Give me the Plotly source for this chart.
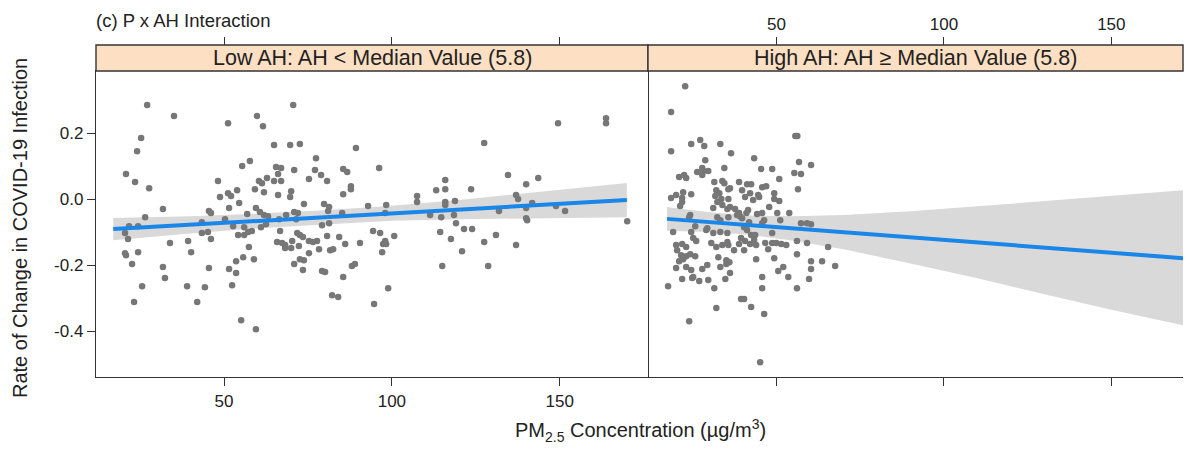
import plotly.graph_objects as go

# ---------------- data ----------------
left_x = [27.1, 35.1, 25.3, 24.1, 51.2, 59.8, 61.6, 70.6, 64.9, 69.7, 72.6, 89.3, 20.8, 23.5, 27.7, 31.8, 26.5,
          55.4, 57.7, 48.2, 48.8, 51.2, 52.1, 53.9, 51.5, 54.5, 59.2, 60.4, 61.3, 62.8, 61.9, 64.9, 66.1, 65.5,
          67.0, 67.0, 66.1, 70.9, 70.0, 69.7, 73.8, 75.3, 77.4, 77.1, 78.9, 80.7, 85.5, 86.7, 87.8, 87.8, 85.5,
          96.2, 92.9, 98.3, 59.5, 60.7, 61.9, 45.5, 46.1, 79.8, 81.3, 81.0, 85.2, 56.9, 50.3, 70.9, 72.0, 68.5,
          63.1, 66.4, 71.5, 79.2, 81.3, 52.7, 56.0, 61.0, 43.4, 21.7, 24.4,
          20.5, 21.4, 20.5, 20.8, 22.6, 24.4, 25.6, 23.2, 33.9, 31.8, 32.4, 39.3, 40.2, 39.0, 42.0, 43.4, 45.2,
          46.1, 45.5, 44.3, 54.2, 56.0, 57.2, 58.3, 57.4, 55.7, 53.6, 58.9, 51.5, 53.6, 52.4, 55.1, 59.5, 62.5,
          66.7, 65.8, 67.3, 68.2, 70.3, 68.2, 70.0, 72.3, 71.8, 72.6, 73.5, 75.3, 76.5, 77.7, 78.3, 75.3, 72.6,
          73.8, 70.9, 73.5, 80.7, 84.3, 86.1, 81.6, 82.5, 79.2, 80.1, 85.5, 88.1, 89.0, 90.5, 82.2, 84.0, 94.4,
          96.5, 98.0, 97.4, 97.1, 94.7, 98.9,
          149.5, 163.8, 163.8, 127.5, 134.6, 143.6, 140.0, 123.6, 115.9, 115.9, 113.2, 107.5, 107.5, 115.9,
          115.9, 118.8, 137.0, 137.6, 141.8, 111.4, 114.7, 118.5, 119.1, 131.9, 140.0, 140.0, 148.9, 151.6,
          170.1, 98.0, 100.7, 98.3, 114.4, 121.5, 123.9, 117.6, 120.9, 115.0, 127.5, 131.0, 128.7, 137.0, 140.3]
left_y = [0.285, 0.252, 0.185, 0.145, 0.230, 0.252, 0.221, 0.285, 0.164, 0.164, 0.167, 0.155, 0.076, 0.052,
          0.033, -0.030, -0.055, 0.100, 0.115, 0.055, 0.006, 0.018, 0.009, 0.027, -0.027, -0.012, 0.030, 0.055,
          0.048, 0.064, 0.021, 0.055, 0.076, 0.097, 0.094, 0.055, 0.012, 0.088, 0.024, 0.006, -0.015, 0.061,
          0.124, 0.088, 0.073, 0.055, 0.091, 0.082, 0.039, 0.030, 0.015, 0.094, -0.021, -0.018, -0.027, -0.039,
          -0.048, -0.036, -0.042, -0.015, -0.024, -0.036, -0.042, -0.045, -0.061, -0.039, -0.042, -0.048,
          -0.052, -0.061, -0.061, -0.079, -0.073, -0.082, -0.085, -0.085, -0.070, -0.082, -0.082,
          -0.103, -0.121, -0.164, -0.170, -0.197, -0.161, -0.264, -0.312, -0.133, -0.206, -0.239, -0.127,
          -0.161, -0.264, -0.312, -0.103, -0.100, -0.121, -0.209, -0.267, -0.109, -0.109, -0.100, -0.097,
          -0.145, -0.176, -0.188, -0.182, -0.212, -0.224, -0.261, -0.367, -0.394, -0.076, -0.097, -0.130,
          -0.133, -0.139, -0.127, -0.148, -0.148, -0.142, -0.103, -0.109, -0.115, -0.127, -0.130, -0.127,
          -0.152, -0.164, -0.182, -0.185, -0.197, -0.215, -0.112, -0.115, -0.136, -0.155, -0.152, -0.218,
          -0.221, -0.236, -0.203, -0.197, -0.133, -0.291, -0.297, -0.097, -0.103, -0.127, -0.136, -0.161,
          -0.318, -0.270,
          0.230, 0.245, 0.230, 0.170, 0.073, 0.064, 0.045, 0.030, 0.058, 0.030, 0.027, 0.009, -0.009, -0.009,
          -0.018, -0.006, 0.012, 0.000, -0.012, -0.048, -0.055, -0.048, -0.073, -0.036, -0.027, -0.058,
          -0.021, -0.036, -0.067, -0.042, -0.112, -0.136, -0.100, -0.091, -0.091, -0.121, -0.158, -0.203,
          -0.130, -0.109, -0.203, -0.139, -0.064]

right_x = [22.7, 18.5, 18.5, 24.5, 27.2, 28.4, 33.2, 36.4, 28.7, 43.3, 55.6, 56.2, 56.7, 60.3, 56.4, 20.9,
           22.4, 23.0, 26.3, 27.8, 28.1, 27.8, 29.6, 34.4, 18.5, 20.0, 22.1, 24.5, 21.8, 21.8, 21.2, 31.4,
           33.8, 34.4, 35.6, 36.1, 32.0, 32.9, 31.7, 33.5, 35.6, 32.3, 33.8, 31.1, 35.3, 36.1, 37.6, 38.8,
           41.2, 42.4, 39.7, 42.1, 40.6, 43.0, 44.5, 44.8, 45.7, 46.9, 45.4, 48.7, 50.8, 49.3, 49.3, 50.8,
           47.8, 50.2, 53.8, 55.3, 57.3, 38.8, 41.0, 41.5, 39.1, 44.2, 45.7, 38.2, 24.2, 23.9, 32.3, 35.6,
           33.2, 39.7, 41.8, 46.3, 51.1, 57.3, 60.3, 25.7, 29.3,
           19.1, 20.0, 21.8, 23.0, 24.5, 25.1, 26.0, 29.0, 31.1, 33.2, 35.3, 30.5, 32.0, 33.8, 35.3, 35.6,
           37.3, 38.8, 39.4, 40.6, 40.3, 42.1, 43.3, 43.9, 42.4, 43.6, 45.7, 48.7, 46.6, 47.5, 48.7, 49.9,
           51.4, 52.9, 56.1, 59.1, 65.4, 56.1, 43.9, 49.3, 60.3, 63.6, 67.5, 60.3, 59.7, 56.1, 50.5, 52.0,
           53.5, 45.7, 45.7, 20.3, 21.5, 22.1, 23.0, 20.9, 24.2, 25.7, 23.0, 24.5, 20.0, 21.8, 24.8, 25.1,
           26.9, 29.6, 27.8, 29.3, 32.6, 33.2, 35.0, 35.9, 35.0, 36.1, 34.7, 31.4, 17.6, 23.9, 32.0, 39.4,
           40.3, 42.4, 46.3, 45.1, 40.3, 41.2, 59.1]
right_y = [0.342, 0.264, 0.145, 0.167, 0.179, 0.161, 0.167, 0.139, 0.118, 0.124, 0.191, 0.191, 0.112, 0.103,
           0.030, 0.067, 0.073, 0.064, 0.082, 0.094, 0.085, 0.073, 0.085, 0.094, 0.003, 0.012, 0.021, 0.015,
           0.003, -0.009, -0.021, 0.052, 0.055, 0.048, 0.030, 0.033, 0.027, 0.018, 0.009, 0.000, 0.000,
           -0.009, -0.018, -0.027, -0.030, -0.024, -0.030, 0.052, 0.045, 0.045, 0.027, 0.018, 0.006, -0.003,
           0.012, 0.006, 0.036, 0.039, 0.091, 0.091, 0.061, 0.018, 0.000, -0.006, -0.024, -0.042, -0.042,
           0.079, 0.076, -0.042, -0.042, -0.033, -0.052, -0.045, -0.042, -0.048, -0.048, -0.055, -0.055,
           -0.055, -0.064, -0.058, -0.070, -0.064, -0.064, -0.073, -0.076, -0.082, -0.088,
           -0.100, -0.139, -0.136, -0.145, -0.100, -0.118, -0.127, -0.094, -0.103, -0.100, -0.103, -0.133,
           -0.145, -0.139, -0.130, -0.139, -0.155, -0.136, -0.118, -0.127, -0.155, -0.136, -0.124, -0.139,
           -0.109, -0.109, -0.073, -0.103, -0.133, -0.152, -0.133, -0.133, -0.136, -0.139, -0.127, -0.133,
           -0.145, -0.167, -0.182, -0.179, -0.188, -0.188, -0.203, -0.212, -0.242, -0.270, -0.218, -0.206,
           -0.236, -0.236, -0.270, -0.155, -0.170, -0.182, -0.173, -0.188, -0.167, -0.173, -0.206, -0.215,
           -0.209, -0.242, -0.239, -0.236, -0.248, -0.245, -0.212, -0.200, -0.176, -0.206, -0.185, -0.191,
           -0.197, -0.224, -0.242, -0.270, -0.264, -0.370, -0.330, -0.303, -0.303, -0.327, -0.348, -0.494,
           -0.085, -0.094, -0.073]

# fitted lines and confidence bands
left_fit_x = [17, 170]
left_fit_y = [-0.091, -0.003]
left_band_x = [17, 40, 60, 80, 100, 120, 145, 170]
left_band_upper = [-0.057, -0.052, -0.044, -0.034, -0.020, -0.003, 0.023, 0.049]
left_band_lower = [-0.125, -0.104, -0.088, -0.076, -0.066, -0.061, -0.057, -0.055]

right_fit_x = [17.3, 171.4]
right_fit_y = [-0.060, -0.179]
right_band_x = [17.3, 30, 42, 55, 70, 90, 110, 130, 150, 171.4]
right_band_upper = [-0.024, -0.040, -0.050, -0.052, -0.048, -0.037, -0.022, -0.006, 0.010, 0.027]
right_band_lower = [-0.096, -0.100, -0.108, -0.126, -0.152, -0.195, -0.240, -0.288, -0.335, -0.382]

panel_titles = ["Low AH: AH < Median Value (5.8)", "High AH: AH \u2265 Median Value (5.8)"]
x_ticks = [50, 100, 150]
y_ticks = [0.2, 0.0, -0.2, -0.4]
y_tick_text = ["0.2", "0.0", "-0.2", "-0.4"]

# ---------------- layout geometry ----------------
# the page body has an 8px margin, so the figure is made 16px smaller and
# all positions below are given in window pixels, shifted by 8.
OFF = 8
W, H = 1195 - 2 * OFF, 454 - 2 * OFF
def px(x):
    return (x - OFF) / W
def py(y):
    return 1 - (y - OFF) / H

left_dom = [px(96), px(648)]
right_dom = [px(648), px(1183)]
plot_dom = [py(377), py(71)]
strip_top, strip_bot = py(45), py(71)

left_range = [11.86, 176.3]
right_range = [11.6, 171.4]
y_range = [-0.539, 0.388]

FONT = "Liberation Sans, Arial, Helvetica, sans-serif"
TXT = "#222222"
POINT = "#777777"
LINE = "#1a86e8"
BAND = "#d9d9d9"
AX = "#333333"

fig = go.Figure()

def add_panel(xa, ya, bx, bu, bl, pxs, pys, fx, fy):
    fig.add_trace(go.Scatter(x=bx + bx[::-1], y=bu + bl[::-1], fill="toself", fillcolor=BAND,
                             line=dict(width=0), mode="lines", hoverinfo="skip",
                             xaxis=xa, yaxis=ya, showlegend=False))
    fig.add_trace(go.Scatter(x=pxs, y=pys, mode="markers",
                             marker=dict(size=6.5, color=POINT, line=dict(width=0)),
                             xaxis=xa, yaxis=ya, showlegend=False))
    fig.add_trace(go.Scatter(x=fx, y=fy, mode="lines", line=dict(color=LINE, width=4),
                             xaxis=xa, yaxis=ya, showlegend=False))

add_panel("x", "y", left_band_x, left_band_upper, left_band_lower, left_x, left_y, left_fit_x, left_fit_y)
add_panel("x2", "y2", right_band_x, right_band_upper, right_band_lower, right_x, right_y, right_fit_x, right_fit_y)

tickfont = dict(family=FONT, size=17, color=TXT)
common_x = dict(showgrid=False, zeroline=False, ticks="outside", ticklen=8, tickwidth=1.2, tickcolor=AX,
                tickvals=x_ticks, tickfont=tickfont, fixedrange=True)

fig.update_layout(
    width=W, height=H, margin=dict(l=0, r=0, t=0, b=0),
    paper_bgcolor="white", plot_bgcolor="white",
    xaxis=dict(domain=left_dom, range=left_range, anchor="y", showline=True, linecolor=AX, linewidth=1.4,
               mirror=True, **common_x),
    xaxis2=dict(domain=right_dom, range=right_range, anchor="y2", showline=True, linecolor=AX, linewidth=1.4,
                mirror=True, showticklabels=False, **common_x),
    xaxis3=dict(domain=left_dom, range=left_range, overlaying="x", side="top", anchor="free",
                position=strip_top, showline=False, showticklabels=False, **common_x),
    xaxis4=dict(domain=right_dom, range=right_range, overlaying="x2", side="top", anchor="free",
                position=strip_top, showline=False, **common_x),
    yaxis=dict(domain=plot_dom, range=y_range, anchor="x", showgrid=False, zeroline=False, showline=True,
               linecolor=AX, linewidth=1.4, mirror=True, ticks="outside", ticklen=8, tickwidth=1.2,
               tickcolor=AX, tickvals=y_ticks, ticktext=y_tick_text, tickfont=tickfont, fixedrange=True),
    yaxis2=dict(domain=plot_dom, range=y_range, anchor="x2", showgrid=False, zeroline=False, showline=False,
                showticklabels=False, fixedrange=True),
)

# empty traces so the top overlay axes are drawn
fig.add_trace(go.Scatter(x=[None], y=[None], xaxis="x3", yaxis="y", showlegend=False))
fig.add_trace(go.Scatter(x=[None], y=[None], xaxis="x4", yaxis="y2", showlegend=False))

# strips
for dom, title in zip([left_dom, right_dom], panel_titles):
    fig.add_shape(type="rect", xref="paper", yref="paper", x0=dom[0], x1=dom[1], y0=strip_bot, y1=strip_top,
                  fillcolor="#fde0c3", line=dict(color=AX, width=1.4), layer="above")
    fig.add_annotation(xref="paper", yref="paper", x=(dom[0] + dom[1]) / 2, y=(strip_top + strip_bot) / 2,
                       text=title, showarrow=False, xanchor="center", yanchor="middle",
                       font=dict(family=FONT, size=21.5, color=TXT))

fig.add_annotation(xref="paper", yref="paper", x=px(96), y=py(20), text="(c) P x AH Interaction",
                   showarrow=False, xanchor="left", yanchor="middle", xshift=-2,
                   font=dict(family=FONT, size=18.5, color=TXT))
fig.add_annotation(xref="paper", yref="paper", x=px(20), y=py(228), text="Rate of Change in COVID-19 Infection",
                   showarrow=False, textangle=-90, xanchor="center", yanchor="middle",
                   font=dict(family=FONT, size=20, color=TXT))
fig.add_annotation(xref="paper", yref="paper", x=px(640), y=py(430),
                   text="PM<sub>2.5</sub> Concentration (\u00b5g/m<sup>3</sup>)",
                   showarrow=False, xanchor="center", yanchor="middle",
                   font=dict(family=FONT, size=20, color=TXT))

fig.write_html("out.html")
